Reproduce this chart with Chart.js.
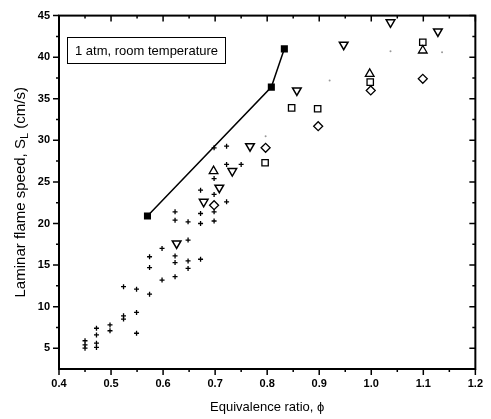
<!DOCTYPE html>
<html>
<head>
<meta charset="utf-8">
<script src="https://cdn.jsdelivr.net/npm/chart.js@4"></script>
<style>
html, body { margin: 0; padding: 0; background: #fff; }
</style>
</head>
<body>
<canvas id="grafica" width="491" height="419"></canvas>
<script>
// datos
var ticksPhi = [0.4, 0.5, 0.6, 0.7, 0.8, 0.9, 1.0, 1.1, 1.2];
var ticksSL = [5, 10, 15, 20, 25, 30, 35, 40, 45];

var lineaPhi = [0.570, 0.808, 0.833];
var lineaSL = [20.9, 36.4, 41.0];

var trianguloAbajoPhi = [0.626, 0.678, 0.708, 0.733, 0.767, 0.857, 0.947, 1.037, 1.128];
var trianguloAbajoSL = [17.6, 22.6, 24.3, 26.3, 29.3, 36.0, 41.5, 44.2, 43.1];

var trianguloArribaPhi = [0.697, 0.997, 1.099];
var trianguloArribaSL = [26.3, 38.0, 40.8];

var romboPhi = [0.698, 0.797, 0.898, 0.999, 1.099];
var romboSL = [22.2, 29.1, 31.7, 36.0, 37.4];

var cuadradoPhi = [0.796, 0.847, 0.897, 0.998, 1.099];
var cuadradoSL = [27.3, 33.9, 33.8, 37.0, 41.8];

var cruzPhi = [0.450, 0.450, 0.450, 0.472, 0.472, 0.472, 0.472, 0.498, 0.498,
	0.524, 0.524, 0.524, 0.549, 0.549, 0.549, 0.574, 0.574, 0.574, 0.598, 0.598,
	0.623, 0.623, 0.623, 0.623, 0.623, 0.648, 0.648, 0.648, 0.648,
	0.672, 0.672, 0.672, 0.672, 0.698, 0.698, 0.698, 0.698, 0.698,
	0.722, 0.722, 0.722, 0.750];
var cruzSL = [5.9, 5.4, 5.0, 7.4, 6.6, 5.6, 5.1, 7.8, 7.1,
	8.9, 8.5, 12.4, 9.3, 6.8, 12.1, 11.5, 14.7, 16.0, 13.2, 17.0,
	21.4, 20.4, 16.1, 15.3, 13.6, 20.2, 18.0, 15.5, 14.6,
	24.0, 21.2, 20.0, 15.7, 25.4, 23.5, 21.4, 20.3, 29.1,
	22.6, 27.1, 29.3, 27.1];

var tenuePhi = [0.797, 0.920, 1.037, 1.136];
var tenueSL = [30.5, 37.2, 40.7, 40.6];

function puntos(xs, ys)
{
	var res = [];
	for (var i = 0; i < xs.length; i++)
		res.push({ x: xs[i], y: ys[i] });
	return res;
}

var fuente = '"Liberation Sans Narrow", "Liberation Sans", Arial, sans-serif';

var marcoPlugin = {
	id: 'marco',
	afterDraw: function (chart)
	{
		var ctx = chart.ctx;
		var a = chart.chartArea;
		var ex = chart.scales.x;
		var ey = chart.scales.y;
		var v, p;

		ctx.save();
		ctx.strokeStyle = '#000';
		ctx.lineWidth = 2;
		ctx.strokeRect(a.left, a.top, a.right - a.left, a.bottom - a.top);

		ctx.lineWidth = 1.5;
		ctx.beginPath();
		// marcas eje x (abajo hacia fuera, arriba hacia dentro)
		for (v = 0.4; v <= 1.2001; v += 0.05)
		{
			p = ex.getPixelForValue(v);
			var mayor = Math.abs(v * 10 - Math.round(v * 10)) < 0.01;
			var l = mayor ? 6 : 3;
			ctx.moveTo(p, a.bottom); ctx.lineTo(p, a.bottom + l);
			ctx.moveTo(p, a.top); ctx.lineTo(p, a.top + l);
		}
		// marcas eje y (izquierda hacia fuera, derecha hacia dentro)
		for (v = 5; v <= 45.001; v += 2.5)
		{
			p = ey.getPixelForValue(v);
			var mayorY = Math.abs(v / 5 - Math.round(v / 5)) < 0.01;
			var ly = mayorY ? 6 : 3;
			ctx.moveTo(a.left, p); ctx.lineTo(a.left - ly, p);
			ctx.moveTo(a.right, p); ctx.lineTo(a.right - ly, p);
		}
		ctx.stroke();

		// recuadro de la leyenda
		ctx.lineWidth = 1;
		ctx.strokeRect(67.5, 37.5, 158, 26);
		ctx.fillStyle = '#000';
		ctx.font = '13px ' + fuente;
		ctx.textBaseline = 'middle';
		ctx.textAlign = 'left';
		ctx.fillText('1 atm, room temperature', 75, 51);

		// titulo eje x
		ctx.textAlign = 'center';
		ctx.font = '13px ' + fuente;
		ctx.fillText('Equivalence ratio, \u03D5', (a.left + a.right) / 2, 407);

		// titulo eje y con subindice
		ctx.translate(21, (a.top + a.bottom) / 2);
		ctx.rotate(-Math.PI / 2);
		var t1 = 'Laminar flame speed, S';
		var t2 = 'L';
		var t3 = ' (cm/s)';
		ctx.font = '15px ' + fuente;
		var w1 = ctx.measureText(t1).width;
		var w3 = ctx.measureText(t3).width;
		ctx.font = '11px ' + fuente;
		var w2 = ctx.measureText(t2).width;
		var x0 = -(w1 + w2 + w3) / 2;
		ctx.textAlign = 'left';
		ctx.font = '15px ' + fuente;
		ctx.fillText(t1, x0, 0);
		ctx.font = '11px ' + fuente;
		ctx.fillText(t2, x0 + w1, 4);
		ctx.font = '15px ' + fuente;
		ctx.fillText(t3, x0 + w1 + w2, 0);
		ctx.restore();
	}
};

var contexto_canvas = document.getElementById('grafica').getContext('2d');

var grafica = new Chart(contexto_canvas, {
	type: 'scatter',
	data: {
		datasets: [
			{
				label: 'tenue',
				data: puntos(tenuePhi, tenueSL),
				pointStyle: 'circle',
				pointRadius: 1,
				borderWidth: 0,
				backgroundColor: '#999'
			},
			{
				label: 'cruz',
				data: puntos(cruzPhi, cruzSL),
				pointStyle: 'cross',
				pointRadius: 2.5,
				borderWidth: 1.3,
				borderColor: '#000'
			},
			{
				label: 'cuadrado',
				data: puntos(cuadradoPhi, cuadradoSL),
				pointStyle: 'rect',
				pointRadius: 4.5,
				borderWidth: 1.3,
				borderColor: '#000',
				backgroundColor: 'rgba(255,255,255,0)'
			},
			{
				label: 'rombo',
				data: puntos(romboPhi, romboSL),
				pointStyle: 'rectRot',
				pointRadius: 4.5,
				borderWidth: 1.3,
				borderColor: '#000',
				backgroundColor: 'rgba(255,255,255,0)'
			},
			{
				label: 'triangulo arriba',
				data: puntos(trianguloArribaPhi, trianguloArribaSL),
				pointStyle: 'triangle',
				pointRadius: 5,
				borderWidth: 1.3,
				borderColor: '#000',
				backgroundColor: 'rgba(255,255,255,0)'
			},
			{
				label: 'triangulo abajo',
				data: puntos(trianguloAbajoPhi, trianguloAbajoSL),
				pointStyle: 'triangle',
				rotation: 180,
				pointRadius: 5,
				borderWidth: 1.5,
				borderColor: '#000',
				backgroundColor: 'rgba(255,255,255,0)'
			},
			{
				label: 'linea',
				data: puntos(lineaPhi, lineaSL),
				showLine: true,
				borderColor: '#000',
				borderWidth: 1.5,
				pointStyle: 'rect',
				pointRadius: 5,
				pointBackgroundColor: '#000',
				pointBorderColor: '#000',
				pointBorderWidth: 0
			}
		]
	},
	options: {
		responsive: false,
		animation: false,
		layout: {
			padding: { top: 15, right: 14, left: 0, bottom: 0 }
		},
		plugins: {
			legend: { display: false },
			tooltip: { enabled: false }
		},
		scales: {
			x: {
				type: 'linear',
				min: 0.4,
				max: 1.2,
				grid: { display: false, drawTicks: false },
				border: { display: false },
				afterFit: function (scale) { scale.height = 50; },
				afterBuildTicks: function (scale) {
					scale.ticks = ticksPhi.map(function (v) { return { value: v }; });
				},
				ticks: {
					padding: 8,
					color: '#000',
					font: { family: fuente, size: 11, weight: 'bold' },
					callback: function (v) { return Number(v).toFixed(1); }
				}
			},
			y: {
				type: 'linear',
				min: 2.5,
				max: 45,
				grid: { display: false, drawTicks: false },
				border: { display: false },
				afterFit: function (scale) { scale.width = 59; },
				afterBuildTicks: function (scale) {
					scale.ticks = ticksSL.map(function (v) { return { value: v }; });
				},
				ticks: {
					padding: 9,
					color: '#000',
					font: { family: fuente, size: 11, weight: 'bold' },
					callback: function (v) { return String(v); }
				}
			}
		}
	},
	plugins: [marcoPlugin]
});
</script>
</body>
</html>
